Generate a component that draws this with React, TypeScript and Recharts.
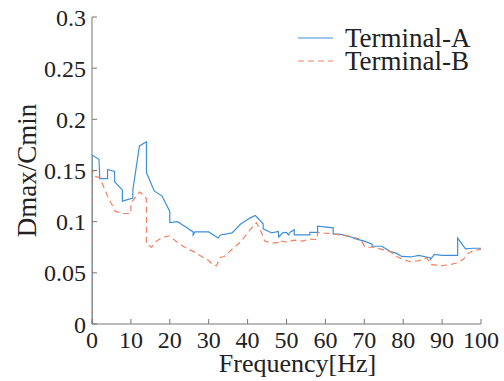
import { LineChart, Line, XAxis, YAxis, Legend } from "recharts";

// Terminal-A (solid), repeated frequencies give the steps
const freqA = [
  0, 0, 1.8, 2, 4, 4, 5.8, 5.8, 7.8, 7.8, 10.5, 10.5, 12.2, 14, 14, 16, 18, 20, 20, 22, 24, 26, 26,
  26.5, 30, 32.4, 33, 36, 38.3, 40.6, 42, 44, 44, 46.2, 47.9, 48, 49, 50, 50.5, 51, 52, 52, 56, 56,
  58, 58, 62, 62, 64, 66, 68, 70, 72, 72, 74.5, 76.6, 78.3, 79.6, 82, 84, 87, 87, 88, 90, 94, 94,
  96, 98, 100,
];
const valuesA = [
  0, 0.165, 0.161, 0.142, 0.142, 0.151, 0.149, 0.139, 0.131, 0.12, 0.123, 0.131, 0.174, 0.178,
  0.148, 0.13, 0.125, 0.11, 0.099, 0.1, 0.095, 0.09, 0.087, 0.09, 0.09, 0.084, 0.087, 0.089, 0.098,
  0.1035, 0.106, 0.098, 0.093, 0.089, 0.0905, 0.085, 0.089, 0.0895, 0.087, 0.09, 0.092, 0.087,
  0.087, 0.0895, 0.0895, 0.0955, 0.094, 0.088, 0.0875, 0.0857, 0.083, 0.081, 0.078, 0.076, 0.076,
  0.071, 0.069, 0.066, 0.0655, 0.067, 0.0645, 0.063, 0.068, 0.067, 0.067, 0.084, 0.0735, 0.074,
  0.074,
];

// Terminal-B (dashed)
const freqB = [
  0, 0, 1, 2, 4, 6, 8, 10, 10, 12.2, 13.6, 14, 14, 15.3, 16.6, 17.8, 19.6, 20, 21.5, 23.4, 26, 28.6,
  30, 31, 32, 33, 34, 36, 38.4, 40, 41.4, 42.3, 43.6, 44.4, 46.2, 48, 48, 50, 52, 54, 56, 57.8, 58,
  62, 65.4, 69, 70.2, 72.3, 74.5, 76.6, 78.3, 80, 82, 84, 86, 87.3, 90, 92, 93.7, 95.4, 96.7, 98,
  100,
];
const valuesB = [
  0, 0.15, 0.144, 0.143, 0.125, 0.11, 0.108, 0.108, 0.118, 0.129, 0.125, 0.122, 0.078, 0.075, 0.081,
  0.084, 0.086, 0.086, 0.081, 0.076, 0.071, 0.065, 0.062, 0.058, 0.057, 0.065, 0.066, 0.073, 0.081,
  0.089, 0.0955, 0.099, 0.089, 0.081, 0.079, 0.0798, 0.0815, 0.08, 0.082, 0.081, 0.083, 0.0825,
  0.0895, 0.088, 0.0863, 0.083, 0.075, 0.075, 0.073, 0.071, 0.066, 0.063, 0.0606, 0.062, 0.0645,
  0.058, 0.057, 0.058, 0.0596, 0.063, 0.069, 0.0717, 0.073,
];

const xTicks = [0, 10, 20, 30, 40, 50, 60, 70, 80, 90, 100];
const yTicks = [0, 0.05, 0.1, 0.15, 0.2, 0.25, 0.3];

const dataA = freqA.map((f, i) => ({ f, v: valuesA[i] }));
const dataB = freqB.map((f, i) => ({ f, v: valuesB[i] }));

const BLUE = "#3f8fd8";
const ORANGE = "#f08060";
const AXIS = "#777";
const FONT = '"Liberation Serif", "Times New Roman", serif';
const textStyle = { fontFamily: FONT };

const tickStyle = { fill: "#222", fontSize: 24, fontFamily: "Liberation Serif" };
const blank = () => "";

function YTitle({ viewBox }: any) {
  const cy = viewBox.y + viewBox.height / 2;
  return (
    <text
      x={27}
      y={cy}
      transform={`rotate(-90 27 ${cy})`}
      textAnchor="middle"
      dominantBaseline="central"
      fontSize={27}
      style={textStyle}
      fill="#222"
    >
      Dmax/Cmin
    </text>
  );
}

function XTitle({ viewBox }: any) {
  return (
    <text
      x={viewBox.x + viewBox.width / 2 + 11}
      y={372}
      textAnchor="middle"
      fontSize={26}
      style={textStyle}
      fill="#222"
    >
      Frequency[Hz]
    </text>
  );
}

function LegendBox() {
  const items = [
    { name: "Terminal-A", color: BLUE, dash: undefined, y: 38 },
    { name: "Terminal-B", color: ORANGE, dash: "6 4", y: 61 },
  ];
  return (
    <svg width={200} height={70}>
      {items.map((it) => (
        <g key={it.name}>
          <line x1={8} x2={43} y1={it.y - 20} y2={it.y - 20} stroke={it.color} strokeWidth={1.2} strokeDasharray={it.dash} />
          <text x={55} y={it.y - 20} dominantBaseline="central" fontSize={27} style={textStyle} fill="#222">
            {it.name}
          </text>
        </g>
      ))}
    </svg>
  );
}

export default function App() {
  return (
    <div style={{ position: "absolute", left: 0, top: 0, width: 504, height: 381, background: "#fff", fontFamily: FONT }}>
      <LineChart width={504} height={381} margin={{ top: 17, right: 23, left: 0, bottom: 0 }}>
        <XAxis
          xAxisId="b"
          dataKey="f"
          type="number"
          domain={[0, 100]}
          ticks={xTicks}
          allowDataOverflow
          height={57}
          stroke={AXIS}
          tickSize={-5}
          tickMargin={12}
          tick={tickStyle}
          label={<XTitle />}
        />
        <XAxis
          xAxisId="t"
          orientation="top"
          type="number"
          domain={[0, 100]}
          ticks={xTicks}
          allowDataOverflow
          height={0}
          stroke={AXIS}
          tickSize={-5}
          tickFormatter={blank}
        />
        <YAxis
          yAxisId="l"
          type="number"
          domain={[0, 0.3]}
          ticks={yTicks}
          allowDataOverflow
          width={92}
          stroke={AXIS}
          tickSize={-5}
          tickMargin={11}
          tick={tickStyle}
          label={<YTitle />}
        />
        <YAxis
          yAxisId="r"
          orientation="right"
          type="number"
          domain={[0, 0.3]}
          ticks={yTicks}
          allowDataOverflow
          width={0}
          stroke={AXIS}
          tickSize={-5}
          tickFormatter={blank}
        />
        <Legend
          layout="horizontal"
          verticalAlign="middle"
          align="center"
          content={<LegendBox />}
          wrapperStyle={{ position: "absolute", left: 290, top: 20, width: 200, height: 70 }}
        />
        <Line
          xAxisId="b"
          yAxisId="l"
          data={dataA}
          dataKey="v"
          name="Terminal-A"
          type="linear"
          stroke={BLUE}
          strokeWidth={1.2}
          dot={false}
          isAnimationActive={false}
        />
        <Line
          xAxisId="b"
          yAxisId="l"
          data={dataB}
          dataKey="v"
          name="Terminal-B"
          type="linear"
          stroke={ORANGE}
          strokeWidth={1.2}
          strokeDasharray="6 4"
          dot={false}
          isAnimationActive={false}
        />
      </LineChart>
    </div>
  );
}
